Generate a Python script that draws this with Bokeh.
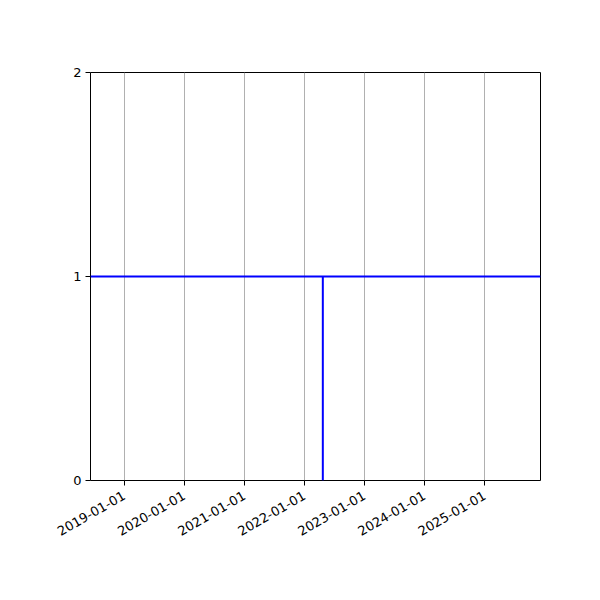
import math
from datetime import datetime
from bokeh.plotting import figure
from bokeh.models import Range1d, FixedTicker, DatetimeTickFormatter, Span, ColumnDataSource
from bokeh.embed import file_html
from bokeh.resources import INLINE

# data
tick_dates = ["2019-01-01", "2020-01-01", "2021-01-01", "2022-01-01",
              "2023-01-01", "2024-01-01", "2025-01-01"]
x_limits = ["2018-06-11", "2025-12-06"]
y_ticks = [0, 1, 2]
level = 1
event_dates = ["2022-04-23"]


def ms(s):
    return (datetime.strptime(s, "%Y-%m-%d") - datetime(1970, 1, 1)).total_seconds() * 1000.0


FONT = "DejaVu Sans"

p = figure(width=600, height=600, output_backend="svg", toolbar_location=None,
           x_axis_type="datetime",
           x_range=Range1d(ms(x_limits[0]), ms(x_limits[1])),
           y_range=Range1d(0, 2),
           min_border_left=90, min_border_right=60, min_border_top=72, min_border_bottom=120)

p.background_fill_color = "white"
p.border_fill_color = "white"
p.outline_line_color = "black"
p.outline_line_width = 1
p.outline_line_alpha = 1

p.xaxis.ticker = FixedTicker(ticks=[ms(d) for d in tick_dates])
p.xaxis.formatter = DatetimeTickFormatter(days="%Y-%m-%d", months="%Y-%m-%d", years="%Y-%m-%d")
p.xaxis.major_label_orientation = math.pi / 6
p.yaxis.ticker = FixedTicker(ticks=y_ticks)

for ax in (p.xaxis, p.yaxis):
    ax.major_label_text_font = FONT
    ax.major_label_text_font_size = "13px"
    ax.major_label_text_color = "black"
    ax.axis_line_color = None
    ax.major_tick_line_color = "black"
    ax.major_tick_out = 5
    ax.major_tick_in = 0
    ax.minor_tick_line_color = None
    ax.major_label_standoff = 4
p.xaxis.major_label_standoff = 9

p.xgrid.grid_line_color = "#b0b0b0"
p.xgrid.grid_line_width = 1
p.ygrid.grid_line_color = None

p.add_layout(Span(location=level, dimension="width", line_color="blue", line_width=2))

src = ColumnDataSource(dict(x=[ms(d) for d in event_dates],
                            y0=[0] * len(event_dates),
                            y1=[level] * len(event_dates)))
p.segment(x0="x", y0="y0", x1="x", y1="y1", source=src, line_color="blue", line_width=2)

open("out.html", "w").write(file_html(p, INLINE))
